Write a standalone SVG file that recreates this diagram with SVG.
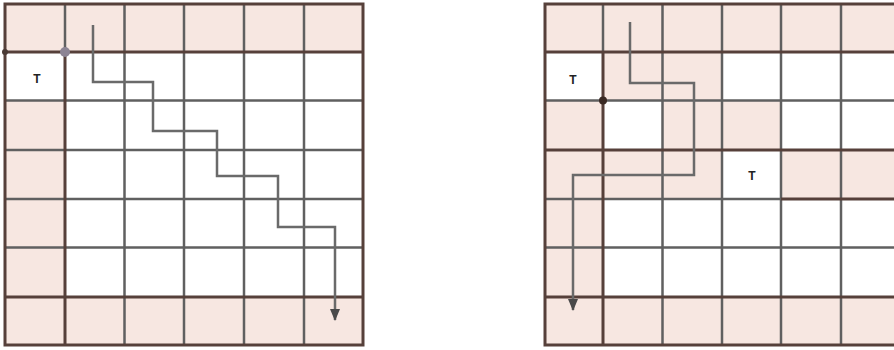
<svg xmlns="http://www.w3.org/2000/svg" width="894" height="350" viewBox="0 0 894 350">
<style>
.pk{fill:#f7e7e1;stroke:none}
.g{stroke:#606060;stroke-width:2.5;fill:none}
.b{stroke:#56403a;stroke-width:3;fill:none}
.p{stroke:#6a6a6a;stroke-width:2.5;fill:none;marker-end:url(#ah)}
.t{font-family:"Liberation Sans",Arial,sans-serif;font-size:12px;font-weight:bold;fill:#222;text-anchor:middle}
</style>
<defs>
<marker id="ah" markerUnits="userSpaceOnUse" markerWidth="10" markerHeight="12" refX="5" refY="11" orient="0">
<path d="M0,0 L10,0 L5,12 z" fill="#4a4a4a"/>
</marker>
</defs>
<rect width="894" height="350" fill="#ffffff"/>
<g id="grid-left">
<rect class="pk" x="5" y="4" width="358" height="48"/>
<rect class="pk" x="5" y="100.5" width="60" height="196.5"/>
<rect class="pk" x="5" y="297" width="358" height="48"/>
<path class="g" d="M124.5,4V345M184,4V345M244,4V345M304,4V345M65,4V52M5,100.5H363M5,150H363M5,199H363M5,247.5H363"/>
<path class="b" d="M65,52V345M5,52H363M5,297H363"/>
<rect class="b" x="5" y="4" width="358" height="341"/>
<circle cx="65" cy="52" r="5" fill="#8c8494"/>
<circle cx="5" cy="52" r="3" fill="#4a3a34"/>
<text class="t" x="37" y="83">T</text>
</g>
<g id="grid-right">
<rect class="pk" x="545" y="4" width="355" height="48"/>
<rect class="pk" x="603" y="52" width="119" height="48.5"/>
<rect class="pk" x="545" y="100.5" width="58" height="49.5"/>
<rect class="pk" x="662.5" y="100.5" width="118.5" height="49.5"/>
<rect class="pk" x="545" y="150" width="177" height="49"/>
<rect class="pk" x="781" y="150" width="119" height="49"/>
<rect class="pk" x="545" y="199" width="58" height="98"/>
<rect class="pk" x="545" y="297" width="355" height="48"/>
<path class="g" d="M662.5,4V345M722,4V345M781,4V345M841,4V345M603,4V52M545,100.5H900M545,247.5H900M545,199H781"/>
<path class="b" d="M603,52V345M545,52H900M545,150H900M781,199H900M545,297H900"/>
<path class="b" d="M900,4H545V345H900"/>
<circle cx="603" cy="100.5" r="4" fill="#3a2a24"/>
<text class="t" x="573" y="84">T</text>
<text class="t" x="752" y="180">T</text>
</g>
<g id="connectors">
<path class="p" d="M93,25V82H153V131H217V176H278V227H335V320"/>
<path class="p" d="M630,22V83H694V175H573V310"/>
</g>
</svg>
